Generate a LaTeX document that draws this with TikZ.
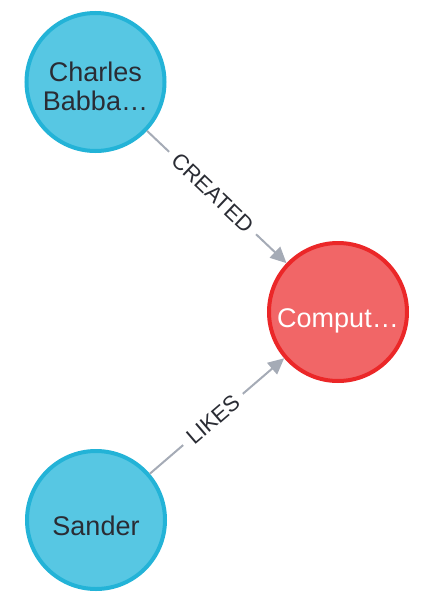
\documentclass[tikz,border=0pt]{standalone}
\usepackage{fontspec}
\setmainfont{Liberation Sans}
\usetikzlibrary{arrows.meta}
\definecolor{personfill}{HTML}{57C7E3}
\definecolor{personline}{HTML}{23B3D7}
\definecolor{thingfill}{HTML}{F16667}
\definecolor{thingline}{HTML}{EB2728}
\definecolor{relline}{HTML}{A5ABB6}
\definecolor{captext}{HTML}{2A2C34}
\tikzset{
  caption/.style={line width=4pt, minimum size=138pt, inner sep=0pt,
    align=center, text height=30pt, text depth=0pt,
    font=\fontsize{27}{28.5}\selectfont},
  person/.style={circle, caption, draw=personline, fill=personfill, text=captext},
  thing/.style={circle, caption, draw=thingline, fill=thingfill, text=white},
  rel/.style={draw=relline, line width=2pt, -{Triangle[length=16pt,width=15pt]}},
  rellabel/.style={sloped, pos=0.47, fill=white, text=captext, inner xsep=8pt, inner ysep=2pt,
    font=\fontsize{22}{25}\selectfont}
}
\begin{document}
\begin{tikzpicture}[x=1pt, y=-1pt]
  \useasboundingbox (0,0) rectangle (442,613);
  \draw
    (95.5,82) node[person, text height=56pt] (charles){Charles\\Babba…}
    (338,312) node[thing] (computer){Comput…}
    (96,520) node[person] (sander){Sander};
  \begin{scope}[rel]
    \draw (charles) to node[rellabel]{CREATED} (computer);
    \draw (sander) to node[rellabel]{LIKES} (computer);
  \end{scope}
\end{tikzpicture}
\end{document}
